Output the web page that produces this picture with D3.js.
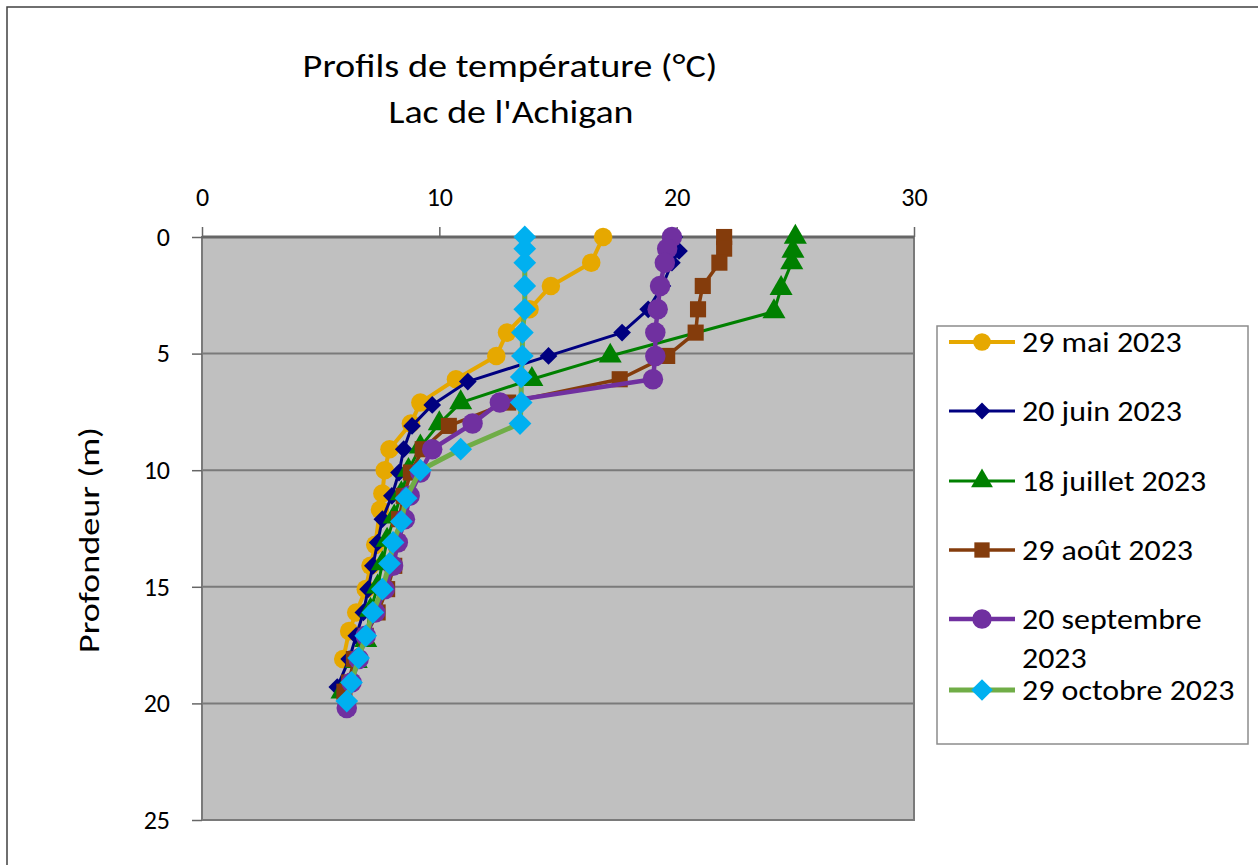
<!DOCTYPE html>
<html><head><meta charset="utf-8">
<script src="https://cdn.jsdelivr.net/npm/d3@7"></script>
<style>
html,body{margin:0;padding:0;background:#fff;}
svg{display:block;font-family:Carlito,Calibri,Lato,sans-serif;}
</style></head>
<body>
<svg id="c" width="1258" height="865"></svg>
<script>
const xTicks = [0, 10, 20, 30];
const yTicks = [0, 5, 10, 15, 20, 25];
const seriesNames = ["29 mai 2023", "20 juin 2023", "18 juillet 2023", "29 août 2023", "20 septembre 2023", "29 octobre 2023"];

const depthMai = [0, 1.1, 2.1, 3.1, 4.1, 5.1, 6.1, 7.1, 8.0, 9.1, 10.0, 11.0, 11.7, 13.2, 14.1, 15.1, 16.1, 16.9, 18.1];
const tempMai  = [16.9, 16.4, 14.7, 13.8, 12.85, 12.4, 10.7, 9.2, 8.8, 7.9, 7.7, 7.6, 7.5, 7.3, 7.1, 6.9, 6.5, 6.2, 5.95];

const depthJuin = [0, 0.6, 1.1, 2.1, 3.1, 4.1, 5.1, 6.2, 7.2, 8.1, 9.1, 10.1, 11.1, 12.1, 13.1, 14.1, 15.1, 16.1, 17.1, 18.1, 19.3];
const tempJuin  = [19.9, 20.1, 19.8, 19.4, 18.8, 17.7, 14.6, 11.2, 9.7, 8.85, 8.5, 8.3, 8.0, 7.6, 7.4, 7.2, 7.0, 6.8, 6.5, 6.2, 5.7];

const depthJuillet = [0, 0.6, 1.1, 2.2, 3.2, 5.1, 6.1, 7.1, 8.0, 9.0, 10.0, 11.0, 12.0, 13.0, 14.0, 15.0, 16.0, 17.3, 18.2, 19.5];
const tempJuillet  = [25.0, 24.9, 24.85, 24.4, 24.1, 17.2, 13.9, 10.9, 10.0, 9.2, 8.7, 8.4, 8.1, 7.8, 7.6, 7.4, 7.1, 6.9, 6.5, 5.9];

const depthAout = [0, 0.5, 1.1, 2.1, 3.1, 4.1, 5.1, 6.1, 7.1, 8.1, 9.1, 10.1, 11.1, 12.1, 13.1, 14.1, 15.1, 16.1, 17.1, 18.1, 19.1, 19.5];
const tempAout  = [22.0, 22.0, 21.8, 21.1, 20.9, 20.8, 19.6, 17.6, 12.9, 10.4, 9.3, 8.8, 8.5, 8.3, 8.2, 8.1, 7.8, 7.4, 6.9, 6.4, 6.2, 6.0];

const depthSept = [0, 0.5, 1.1, 2.1, 3.1, 4.1, 5.1, 6.1, 7.1, 8.0, 9.1, 10.1, 11.1, 12.1, 13.1, 14.1, 15.1, 16.1, 17.1, 18.1, 19.1, 20.2];
const tempSept  = [19.8, 19.6, 19.5, 19.3, 19.2, 19.1, 19.1, 19.0, 12.55, 11.4, 9.7, 9.2, 8.75, 8.55, 8.25, 8.05, 7.7, 7.3, 6.9, 6.6, 6.3, 6.1];

const depthOct = [0, 0.5, 1.1, 2.1, 3.1, 4.1, 5.1, 6.0, 7.1, 8.0, 9.1, 10.0, 11.2, 12.2, 13.1, 14.0, 15.1, 16.1, 17.1, 18.05, 19.1, 19.9];
const tempOct  = [13.6, 13.6, 13.6, 13.6, 13.6, 13.5, 13.5, 13.45, 13.45, 13.4, 10.9, 9.2, 8.6, 8.4, 8.05, 7.9, 7.6, 7.2, 6.9, 6.6, 6.3, 6.1];

const depths = [depthMai, depthJuin, depthJuillet, depthAout, depthSept, depthOct];
const temps = [tempMai, tempJuin, tempJuillet, tempAout, tempSept, tempOct];

const styles = [
  {line: "#E6A800", fill: "#E6A800", w: 4, shape: "circle", size: 270},
  {line: "#000080", fill: "#000080", w: 3, shape: "diamond", size: 200},
  {line: "#008000", fill: "#008000", w: 3, shape: "triangle", size: 230},
  {line: "#843C0C", fill: "#843C0C", w: 3.5, shape: "square", size: 260},
  {line: "#7030A0", fill: "#7030A0", w: 4.5, shape: "circle", size: 330},
  {line: "#70AD47", fill: "#00B0F0", w: 5, shape: "diamond", size: 330}
];

const svg = d3.select("#c");
const L = 202, R = 914, T = 237, B = 820;
const x = d3.scaleLinear().domain([0, 30]).range([L, R]);
const y = d3.scaleLinear().domain([0, 25]).range([T, B]);

// outer chart border
svg.append("rect").attr("x", 7).attr("y", 7).attr("width", 1300).attr("height", 900)
  .attr("fill", "#fff").attr("stroke", "#404040").attr("stroke-width", 1.5);

// title
svg.append("text").attr("transform", "translate(510,77) scale(1.16,1)").attr("text-anchor", "middle")
  .attr("font-size", 33).attr("fill", "#000").text("Profils de température (°C)");
svg.append("text").attr("transform", "translate(511,123) scale(1.15,1)").attr("text-anchor", "middle")
  .attr("font-size", 33).attr("fill", "#000").text("Lac de l'Achigan");

// plot area
svg.append("rect").attr("x", L).attr("y", T).attr("width", R - L).attr("height", B - T)
  .attr("fill", "#C0C0C0");

// gridlines
svg.append("g").selectAll("line").data(yTicks.slice(1, -1)).join("line")
  .attr("x1", L).attr("x2", R).attr("y1", d => y(d)).attr("y2", d => y(d))
  .attr("stroke", "#7a7a7a").attr("stroke-width", 2);

svg.append("rect").attr("x", L).attr("y", T).attr("width", R - L).attr("height", B - T)
  .attr("fill", "none").attr("stroke", "#7a7a7a").attr("stroke-width", 2);
svg.append("line").attr("x1", L).attr("x2", R).attr("y1", T).attr("y2", T)
  .attr("stroke", "#666").attr("stroke-width", 3);

// axes
const xAxis = svg.append("g").attr("transform", `translate(0,${T})`)
  .call(d3.axisTop(x).tickValues(xTicks).tickSize(10).tickPadding(21).tickFormat(d3.format("d")));
const yAxis = svg.append("g").attr("transform", `translate(${L},0)`)
  .call(d3.axisLeft(y).tickValues(yTicks).tickSize(10).tickPadding(22).tickFormat(d3.format("d")));
[xAxis, yAxis].forEach(a => {
  a.select(".domain").remove();
  a.selectAll(".tick line").attr("stroke", "#666").attr("stroke-width", 1.5);
  a.selectAll(".tick text").attr("font-size", 26).attr("fill", "#000")
    .attr("font-family", "Carlito,Calibri,Lato,sans-serif");
});

// y title
svg.append("text").attr("transform", "translate(99,540) rotate(-90) scale(1.25,1)")
  .attr("text-anchor", "middle").attr("font-size", 29).attr("fill", "#000").text("Profondeur (m)");

function symType(s) {
  return s === "circle" ? d3.symbolCircle : s === "diamond" ? d3.symbolDiamond2 :
    s === "triangle" ? d3.symbolTriangle : d3.symbolSquare;
}

const line = d3.line().x(d => x(d[0])).y(d => y(d[1]));

depths.forEach((dep, i) => {
  const st = styles[i];
  const pts = dep.map((d, j) => [temps[i][j], d]);
  const g = svg.append("g");
  g.append("path").datum(pts).attr("d", line).attr("fill", "none")
    .attr("stroke", st.line).attr("stroke-width", st.w).attr("stroke-linejoin", "round");
  g.selectAll("path.m").data(pts).join("path").attr("class", "m")
    .attr("transform", d => `translate(${x(d[0])},${y(d[1])})`)
    .attr("d", d3.symbol().type(symType(st.shape)).size(st.size))
    .attr("fill", st.fill);
});

// legend
const lg = svg.append("g");
lg.append("rect").attr("x", 937).attr("y", 326).attr("width", 311).attr("height", 418)
  .attr("fill", "#fff").attr("stroke", "#8c8c8c").attr("stroke-width", 1.5);
const legY = [342, 411, 481, 550, 619, 690];
seriesNames.forEach((name, i) => {
  const st = styles[i];
  const cy = legY[i];
  lg.append("line").attr("x1", 949).attr("x2", 1015).attr("y1", cy).attr("y2", cy)
    .attr("stroke", st.line).attr("stroke-width", st.w);
  lg.append("path").attr("transform", `translate(982,${cy})`)
    .attr("d", d3.symbol().type(symType(st.shape)).size(st.size * 0.9)).attr("fill", st.fill);
  const t = lg.append("text").attr("transform", `translate(1022,${cy + 10}) scale(1.14,1)`)
    .attr("font-size", 28).attr("fill", "#000");
  if (name === "20 septembre 2023") {
    t.append("tspan").attr("x", 0).text("20 septembre");
    t.append("tspan").attr("x", 0).attr("dy", 39).text("2023");
  } else {
    t.text(name);
  }
});
</script>
</body></html>
